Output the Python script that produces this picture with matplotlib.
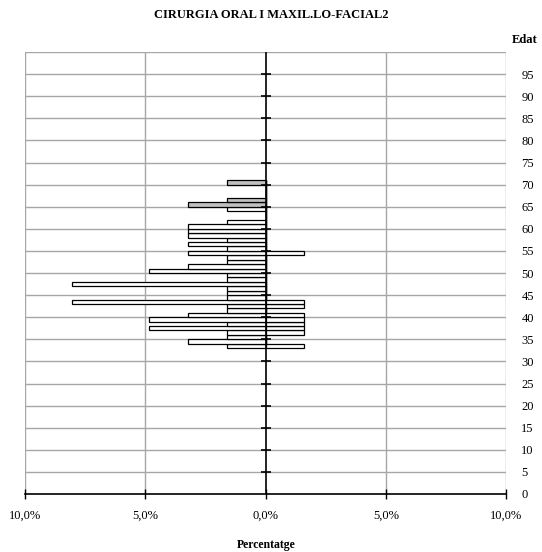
import matplotlib
matplotlib.use("Agg")
import matplotlib.pyplot as plt
from matplotlib.ticker import FixedLocator, FuncFormatter

plt.rcParams['font.family'] = ['Liberation Serif', 'DejaVu Serif']

# ---- data (percentages) ----
ages = list(range(33, 71))
left_white = [1.61, 3.23, 1.61, 1.61, 4.84, 1.61, 4.84, 3.23, 1.61, 1.61,   # 33-42
              8.06, 1.61, 1.61, 1.61, 8.06, 1.61, 1.61, 4.84, 3.23, 1.61,   # 43-52
              1.61, 3.23, 1.61, 3.23, 1.61, 3.23, 3.23, 3.23, 1.61, 0.0,    # 53-62
              0.0, 1.61, 0.0, 0.0, 0.0, 0.0, 0.0, 0.0]                      # 63-70
left_grey = [0.0] * 32 + [3.23, 1.61, 0.0, 0.0, 0.0, 1.61]                   # 33-64 zero, 65-70
right_white = [1.61, 0.0, 0.0, 1.61, 1.61, 1.61, 1.61, 1.61, 0.0, 1.61,     # 33-42
               1.61, 0.0, 0.0, 0.0, 0.0, 0.0, 0.0, 0.0, 0.0, 0.0,            # 43-52
               0.0, 1.61, 0.0, 0.0, 0.0, 0.0, 0.0, 0.0, 0.0, 0.0,            # 53-62
               0.0, 0.0, 0.0, 0.0, 0.0, 0.0, 0.0, 0.0]                       # 63-70
x_ticks = [-10, -5, 0, 5, 10]
age_ticks = list(range(0, 100, 5))

title = "CIRURGIA ORAL I MAXIL.LO-FACIAL2"
xlabel = "Percentatge"
ylabel = "Edat"

W, H = 542, 552
fig = plt.figure(figsize=(W / 100, H / 100), dpi=100)
ax = fig.add_axes([25 / W, 1 - 494 / H, (506 - 25) / W, (494 - 52) / H])

grid_c = '#a6a6a6'
ax.set_xlim(-10, 10)
ax.set_ylim(0, 100)

# grid
for t in age_ticks[1:] + [100]:
    ax.axhline(t, color=grid_c, lw=1.0, zorder=0)
for t in x_ticks:
    if t != 0:
        ax.axvline(t, color=grid_c, lw=1.0, zorder=0)

# bars
ax.barh(ages, [-v for v in left_white], height=1, align='edge',
        color='white', edgecolor='black', linewidth=0.9, zorder=2)
ax.barh(ages, [-v for v in left_grey], height=1, align='edge',
        color='#c0c0c0', edgecolor='black', linewidth=0.9, zorder=2)
ax.barh(ages, right_white, height=1, align='edge',
        color='white', edgecolor='black', linewidth=0.9, zorder=2)

# central axis with crossing ticks
ax.axvline(0, color='black', lw=1.2, zorder=3)
ax.plot([0] * len(age_ticks[1:]), age_ticks[1:], linestyle='none', marker='_',
        markersize=7, markeredgewidth=1.2, color='black', zorder=3, clip_on=False)

for s in ['left', 'right', 'top']:
    ax.spines[s].set_visible(False)
ax.spines['bottom'].set_color('black')
ax.spines['bottom'].set_linewidth(1.2)

ax.xaxis.set_major_locator(FixedLocator(x_ticks))
ax.xaxis.set_major_formatter(FuncFormatter(lambda v, p: f"{abs(v):.1f}%".replace('.', ',')))
ax.tick_params(axis='x', direction='inout', length=7, width=1.0, pad=8,
               labelsize=9, colors='black')

ax.yaxis.set_major_locator(FixedLocator(age_ticks))
ax.yaxis.tick_right()
ax.tick_params(axis='y', length=0, pad=11, labelsize=9)
for lab in ax.get_yticklabels():
    lab.set_horizontalalignment('left')

fig.text(271 / W, 1 - 15 / H, title, ha='center', va='center',
         fontsize=9, fontweight='bold')
fig.text(266 / W, 1 - 545 / H, xlabel, ha='center', va='center',
         fontsize=8.5, fontweight='bold')
fig.text(525 / W, 1 - 40 / H, ylabel, ha='center', va='center',
         fontsize=9, fontweight='bold')

fig.savefig('out.png', dpi=100)
